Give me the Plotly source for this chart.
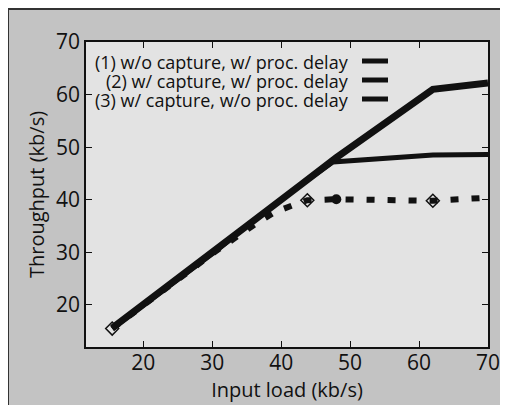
import plotly.graph_objects as go

# Data
labels = ["(1) w/o capture, w/ proc. delay",
          "(2) w/ capture, w/ proc. delay",
          "(3) w/ capture, w/o proc. delay"]

x1 = [15.5, 30.5, 35, 43, 48, 62, 70]
y1 = [15.6, 30.3, 35, 43, 48, 61, 62.2]

x2 = [15.5, 30.5, 36.5, 39, 42, 43.8, 48, 62, 70]
y2 = [15.5, 30.2, 35.6, 37.6, 39.1, 39.9, 40.1, 39.8, 40.4]

x3 = [15.5, 30.5, 35, 43, 47.5, 62, 70]
y3 = [15.5, 30.2, 35, 43, 47.2, 48.5, 48.6]

xticks = [20, 30, 40, 50, 60, 70]
yticks = [20, 30, 40, 50, 60, 70]

FONT = "Open Sans"
INK = "#111111"

# the page body has an 8px margin; figure is 500x397 placed at (8, 8)
FW, FH = 500, 397
L, R, T, B = 78, 480, 34, 339   # plot area in figure pixels
W, H = R - L, B - T
def px(x): return (x - L) / W
def py(y): return (B - y) / H

sym2 = ["diamond-open", "diamond-open", "diamond-open", "diamond-open",
        "diamond-open", "diamond-open", "circle", "diamond-open", "diamond-open"]
size2 = [10, 0, 0, 0, 0, 10, 10, 10, 0]
lw2 = [1.5, 0, 0, 0, 0, 1.5, 0, 1.5, 0]

fig = go.Figure()
fig.add_trace(go.Scatter(x=x3, y=y3, mode="lines", name=labels[2],
                         line=dict(color=INK, width=5)))
fig.add_trace(go.Scatter(x=x1, y=y1, mode="lines", name=labels[0],
                         line=dict(color=INK, width=7)))
fig.add_trace(go.Scatter(x=x2, y=y2, mode="lines+markers", name=labels[1],
                         line=dict(color=INK, width=6, dash="8px,13px"),
                         marker=dict(symbol=sym2, size=size2, color=INK,
                                     opacity=1,
                                     line=dict(width=lw2, color=INK))))

shapes = [
    # dark frame edges (top and left) of the halftone page
    dict(type="line", xref="paper", yref="paper",
         x0=px(0), x1=px(FW), y0=py(1), y1=py(1),
         line=dict(color="#333333", width=2)),
    dict(type="line", xref="paper", yref="paper",
         x0=px(0), x1=px(0), y0=py(0), y1=py(FH),
         line=dict(color="#333333", width=2)),
]

annotations = []
rows = [54, 73, 92]
for lab, yy in zip(labels, rows):
    annotations.append(dict(text=lab, xref="paper", yref="paper",
                            x=px(343), y=py(yy), xanchor="right",
                            yanchor="middle", showarrow=False,
                            font=dict(family=FONT, size=18, color=INK)))
    shapes.append(dict(type="line", xref="paper", yref="paper",
                       x0=px(354), x1=px(380), y0=py(yy - 1), y1=py(yy - 1),
                       line=dict(color=INK, width=5)))

fig.update_layout(
    width=FW, height=FH,
    margin=dict(l=L, r=FW - R, t=T, b=FH - B, autoexpand=False),
    paper_bgcolor="#c3c3c3", plot_bgcolor="#e3e3e3",
    showlegend=False,
    shapes=shapes, annotations=annotations,
    font=dict(family=FONT, size=20, color=INK),
)
axis_common = dict(showgrid=False, zeroline=False, showline=True,
                   linecolor=INK, linewidth=1.5, mirror="allticks",
                   ticks="inside", ticklen=6, tickwidth=1.2, tickcolor=INK,
                   automargin=False,
                   tickfont=dict(family=FONT, size=21, color=INK))
fig.update_xaxes(range=[11.7, 70], tickvals=xticks, ticklabelstandoff=-4,
                 title=dict(text="Input load (kb/s)", standoff=0,
                            font=dict(family=FONT, size=20, color=INK)),
                 **axis_common)
fig.update_yaxes(range=[12, 70], tickvals=yticks,
                 title=dict(text="Throughput (kb/s)", standoff=6,
                            font=dict(family=FONT, size=20, color=INK)),
                 **axis_common)

fig.write_html("out.html")
